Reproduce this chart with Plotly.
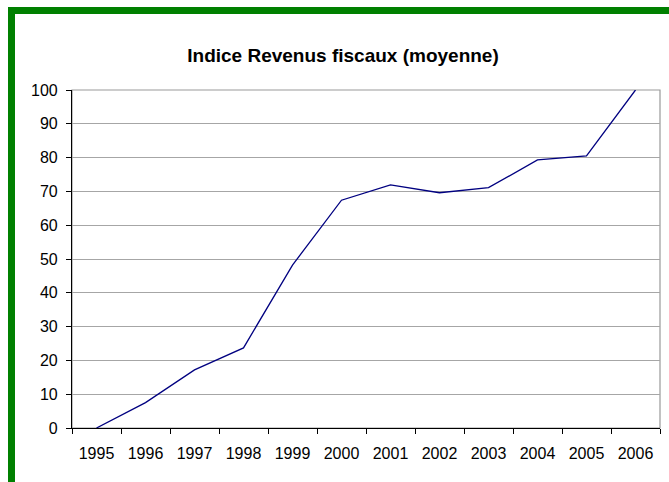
import plotly.graph_objects as go

# Yearly average tax-revenue index
years = ["1995", "1996", "1997", "1998", "1999", "2000",
         "2001", "2002", "2003", "2004", "2005", "2006"]
index_values = [0, 7.5, 17.2, 23.7, 48.2, 67.4, 71.9, 69.6, 71.1, 79.3, 80.5, 100]
y_ticks = [0, 10, 20, 30, 40, 50, 60, 70, 80, 90, 100]

W, H = 669, 482
ML, MR, MT, MB = 72, 9, 90, 54
PW, PH = W - ML - MR, H - MT - MB


def px_x(x):
    return (x - ML) / PW


def px_y(y):
    return (H - MB - y) / PH


FONT = "Liberation Sans, Arial, sans-serif"

fig = go.Figure(
    go.Scatter(
        x=years,
        y=index_values,
        mode="lines",
        line=dict(color="#000080", width=1.3),
        hoverinfo="x+y",
    )
)

green = "#008000"
shapes = [
    # plot frame (top/right in gray)
    dict(type="rect", xref="paper", yref="paper", x0=0, x1=1, y0=0, y1=1,
         line=dict(color="#999999", width=1.2), layer="below"),
    # green border along the left and top edges
    dict(type="rect", xref="paper", yref="paper",
         x0=px_x(8), x1=px_x(15), y0=px_y(H + 5), y1=px_y(7),
         fillcolor=green, line=dict(width=0)),
    dict(type="rect", xref="paper", yref="paper",
         x0=px_x(8), x1=px_x(W + 5), y0=px_y(14), y1=px_y(7),
         fillcolor=green, line=dict(width=0)),
]

fig.update_layout(
    width=W,
    height=H,
    margin=dict(l=ML, r=MR, t=MT, b=MB, pad=0),
    paper_bgcolor="white",
    plot_bgcolor="white",
    showlegend=False,
    font=dict(family=FONT, size=16, color="#000000"),
    title=dict(
        text="<b>Indice Revenus fiscaux (moyenne)</b>",
        x=343 / W, xanchor="center",
        y=1 - 55 / H, yanchor="middle",
        font=dict(family=FONT, size=19, color="#000000"),
    ),
    shapes=shapes,
)

fig.update_xaxes(
    type="category",
    categoryorder="array",
    categoryarray=years,
    range=[-0.5, len(years) - 0.5],
    showgrid=False,
    showline=True,
    linecolor="#000000",
    linewidth=1.2,
    ticks="outside",
    tickson="boundaries",
    ticklen=5,
    tickcolor="#000000",
    tickfont=dict(family=FONT, size=16),
    ticklabelstandoff=11,
    fixedrange=True,
)

fig.update_yaxes(
    range=[0, 100],
    tickvals=y_ticks,
    showgrid=True,
    gridcolor="#A6A6A6",
    gridwidth=1,
    showline=True,
    linecolor="#000000",
    linewidth=1.2,
    ticks="outside",
    ticklen=5,
    tickcolor="#000000",
    tickfont=dict(family=FONT, size=16),
    ticklabelstandoff=5,
    zeroline=False,
    fixedrange=True,
)

fig.write_html("out.html")
